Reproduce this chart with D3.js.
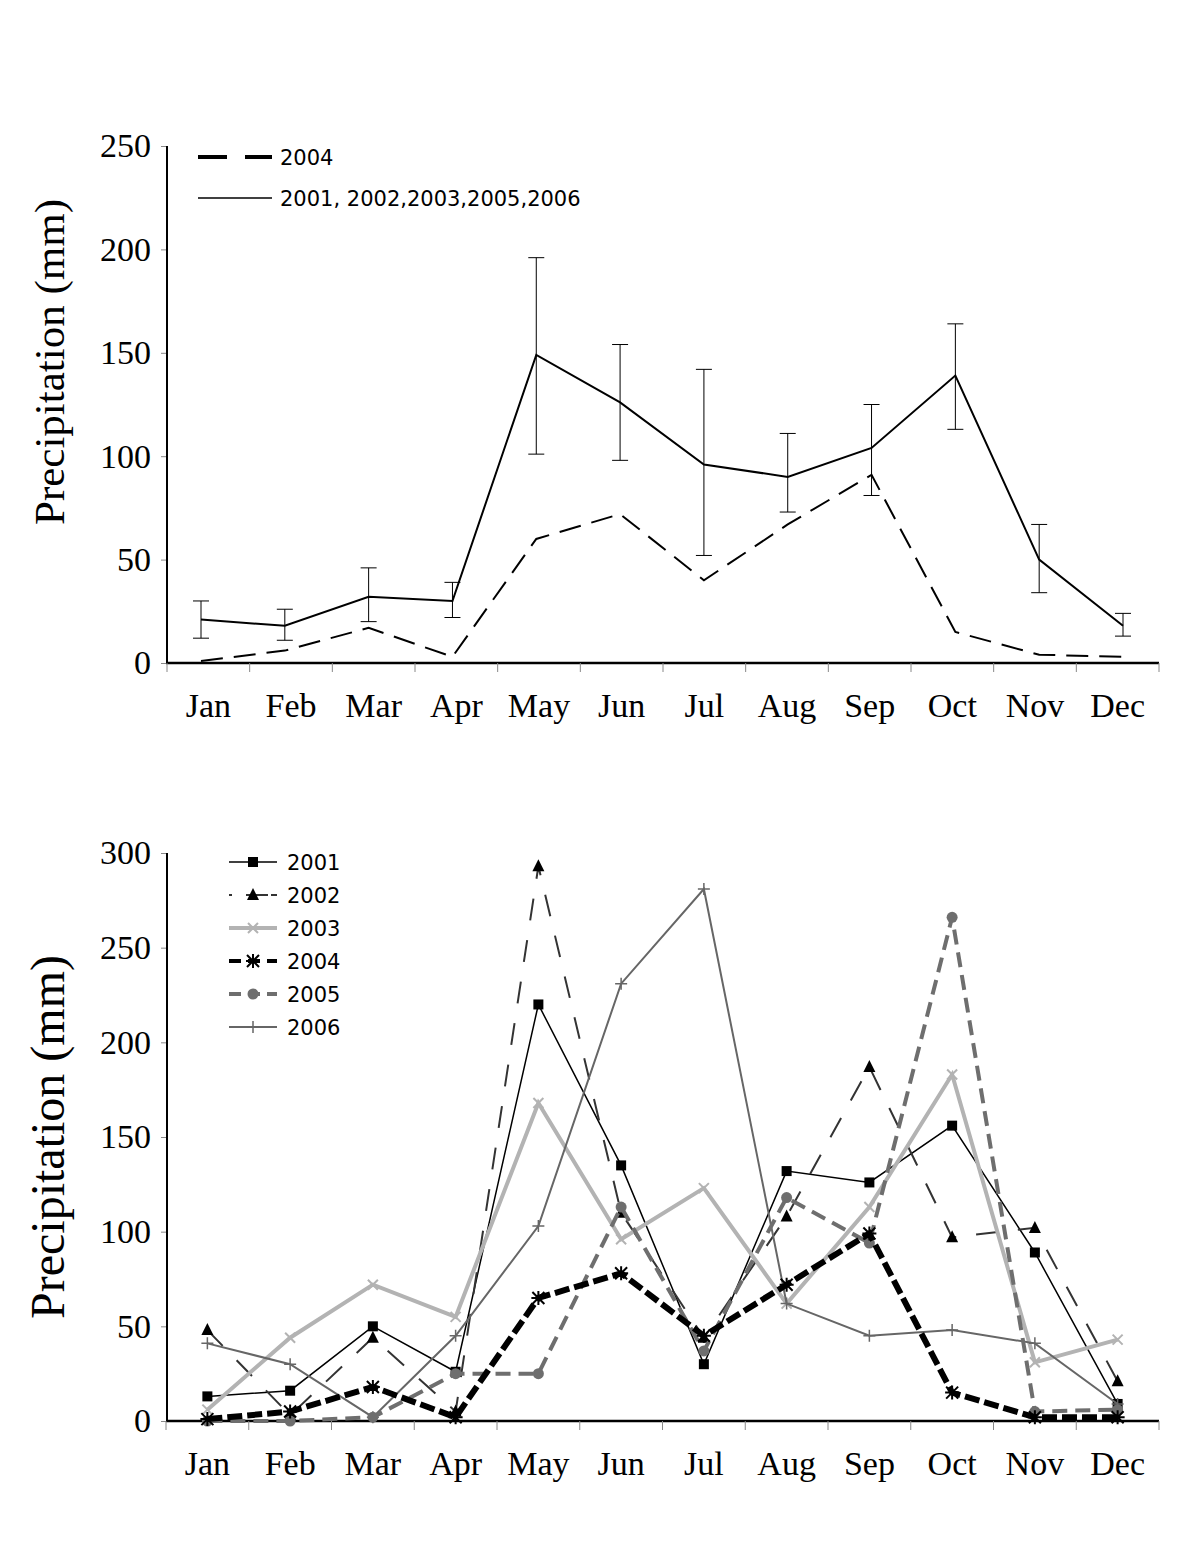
<!DOCTYPE html>
<html><head><meta charset="utf-8">
<script src="https://cdn.jsdelivr.net/npm/d3@7"></script>
<style>body{margin:0;background:#fff}svg{display:block}</style>
</head><body>
<svg id="c" width="1200" height="1553"></svg>
<script>
const months = ["Jan","Feb","Mar","Apr","May","Jun","Jul","Aug","Sep","Oct","Nov","Dec"];
// Top chart: mean of 2001,2002,2003,2005,2006 with error bars, and 2004
const meanOther = [21,18,32,30,149,126,96,90,104,139,50,18];
const errLow    = [12,11,20,22,101,98,52,73,81,113,34,13];
const errHigh   = [30,26,46,39,196,154,142,111,125,164,67,24];
const top2004   = [1,6,17,3,60,72,40,67,91,15,4,3];
const topTicks  = [0,50,100,150,200,250];
// Bottom chart: each year
const years = ["2001","2002","2003","2004","2005","2006"];
const y2001 = [13,16,50,26,220,135,30,132,126,156,89,9];
const y2002 = [48,3,44,5,293,110,44,108,187,97,102,21];
const y2003 = [6,44,72,55,168,96,123,62,113,183,31,43];
const y2004 = [1,5,18,2,65,78,45,72,99,15,2,2];
const y2005 = [0,0,2,25,25,113,37,118,94,266,5,6];
const y2006 = [41,30,2,45,103,231,281,62,45,48,41,9];
const bottomTicks = [0,50,100,150,200,250,300];

const svg = d3.select("#c");
const serif = "'Liberation Serif','Times New Roman',serif";
const sans = "'DejaVu Sans',Verdana,sans-serif";

function axes(g, xBand, y, ticks, yTop, yBot, labelSize, labelY) {
  const ya = d3.axisLeft(y).tickValues(ticks).tickSize(6).tickPadding(10);
  const gy = g.append("g").attr("transform","translate(167,0)").call(ya);
  gy.select(".domain").remove();
  gy.selectAll(".tick line").attr("stroke","#888").attr("stroke-width",1);
  gy.selectAll("text").attr("font-family",serif).attr("font-size",34).attr("fill","#000");
  g.append("line").attr("x1",167).attr("x2",167).attr("y1",yTop).attr("y2",yBot+1)
    .attr("stroke","#000").attr("stroke-width",2);
  g.append("line").attr("x1",166).attr("x2",1159).attr("y1",yBot).attr("y2",yBot)
    .attr("stroke","#000").attr("stroke-width",2.5);
  const bounds = months.map(m=>xBand(m)).concat([xBand.range()[1]]);
  g.selectAll("line.xt").data(bounds).join("line").attr("class","xt")
    .attr("x1",d=>d).attr("x2",d=>d).attr("y1",yBot).attr("y2",yBot+9)
    .attr("stroke","#888").attr("stroke-width",1);
  g.selectAll("text.xl").data(months).join("text").attr("class","xl")
    .attr("x",d=>xBand(d)+xBand.bandwidth()/2).attr("y",yBot+54)
    .attr("text-anchor","middle").attr("font-family",serif).attr("font-size",34).text(d=>d);
  g.append("text").attr("transform",`translate(64,${labelY}) rotate(-90)`)
    .attr("text-anchor","middle").attr("font-family",serif).attr("font-size",labelSize)
    .text("Precipitation (mm)");
}

// ---------- TOP ----------
const gt = svg.append("g");
const xbT = d3.scaleBand().domain(months).range([167,1159]);
const xpT = d3.scalePoint().domain(months).range([201,1123]);
const yT = d3.scaleLinear().domain([0,250]).range([663,146]);
axes(gt, xbT, yT, topTicks, 146, 663, 43, 362);

const lineT = d3.line().x((d,i)=>xpT(months[i])).y(d=>yT(d));
gt.append("path").attr("d",lineT(top2004)).attr("fill","none").attr("stroke","#000")
  .attr("stroke-width",2).attr("stroke-dasharray","22,11");
gt.append("path").attr("d",lineT(meanOther)).attr("fill","none").attr("stroke","#000")
  .attr("stroke-width",2);
const eb = gt.selectAll("g.eb").data(months).join("g").attr("class","eb");
eb.append("line").attr("x1",d=>xpT(d)).attr("x2",d=>xpT(d))
  .attr("y1",(d,i)=>yT(errLow[i])).attr("y2",(d,i)=>yT(errHigh[i])).attr("stroke","#000").attr("stroke-width",1);
eb.append("line").attr("x1",d=>xpT(d)-8).attr("x2",d=>xpT(d)+8)
  .attr("y1",(d,i)=>yT(errLow[i])).attr("y2",(d,i)=>yT(errLow[i])).attr("stroke","#000").attr("stroke-width",1);
eb.append("line").attr("x1",d=>xpT(d)-8).attr("x2",d=>xpT(d)+8)
  .attr("y1",(d,i)=>yT(errHigh[i])).attr("y2",(d,i)=>yT(errHigh[i])).attr("stroke","#000").attr("stroke-width",1);

// top legend
gt.append("line").attr("x1",198).attr("x2",272).attr("y1",157).attr("y2",157)
  .attr("stroke","#000").attr("stroke-width",4).attr("stroke-dasharray","29,18");
gt.append("text").attr("x",280).attr("y",164.5).attr("font-family",sans).attr("font-size",21).text("2004");
gt.append("line").attr("x1",198).attr("x2",272).attr("y1",198).attr("y2",198)
  .attr("stroke","#000").attr("stroke-width",1.5);
gt.append("text").attr("x",280).attr("y",205.5).attr("font-family",sans).attr("font-size",21)
  .text("2001, 2002,2003,2005,2006");

// ---------- BOTTOM ----------
const gb = svg.append("g");
const xbB = d3.scaleBand().domain(months).range([166,1159]);
const yB = d3.scaleLinear().domain([0,300]).range([1421,853]);
axes(gb, xbB, yB, bottomTicks, 853, 1421, 48, 1137);
const cx = m => xbB(m)+xbB.bandwidth()/2;

const series = [
  {name:"2001", vals:y2001, color:"#000", w:1.5, dash:null, mk:"square", mc:"#000"},
  {name:"2002", vals:y2002, color:"#333", w:2, dash:"22,20", mk:"triangle", mc:"#000"},
  {name:"2003", vals:y2003, color:"#b3b3b3", w:4, dash:null, mk:"x", mc:"#b3b3b3"},
  {name:"2006", vals:y2006, color:"#666", w:2, dash:null, mk:"plus", mc:"#666"},
  {name:"2005", vals:y2005, color:"#6e6e6e", w:4, dash:"15,8", mk:"circle", mc:"#6e6e6e"},
  {name:"2004", vals:y2004, color:"#000", w:6, dash:"15,5", mk:"star", mc:"#000"}
];
const lineB = d3.line().x((d,i)=>cx(months[i])).y(d=>yB(d));

function marker(g, type, x, y, color) {
  if (type==="square") g.append("rect").attr("x",x-5).attr("y",y-5).attr("width",10).attr("height",10).attr("fill",color);
  else if (type==="triangle") g.append("path").attr("d",`M${x},${y-7}L${x+6},${y+5}L${x-6},${y+5}Z`).attr("fill",color);
  else if (type==="circle") g.append("circle").attr("cx",x).attr("cy",y).attr("r",5.5).attr("fill",color);
  else if (type==="x") g.append("path").attr("d",`M${x-5},${y-5}L${x+5},${y+5}M${x-5},${y+5}L${x+5},${y-5}`).attr("stroke",color).attr("stroke-width",2);
  else if (type==="plus") g.append("path").attr("d",`M${x-6},${y}L${x+6},${y}M${x},${y-6}L${x},${y+6}`).attr("stroke",color).attr("stroke-width",1.5);
  else if (type==="star") g.append("path").attr("d",`M${x-6},${y-6}L${x+6},${y+6}M${x-6},${y+6}L${x+6},${y-6}M${x},${y-7}L${x},${y+7}M${x-7},${y}L${x+7},${y}`).attr("stroke",color).attr("stroke-width",2);
}

series.forEach(s=>{
  const p = gb.append("path").attr("d",lineB(s.vals)).attr("fill","none").attr("stroke",s.color)
    .attr("stroke-width",s.w).attr("stroke-linejoin","miter");
  if (s.dash) p.attr("stroke-dasharray",s.dash);
  const mg = gb.append("g");
  s.vals.forEach((v,i)=>marker(mg, s.mk, cx(months[i]), yB(v), s.mc));
});

// bottom legend
const legY = d3.scalePoint().domain(years).range([862,1027]);
years.forEach(yr=>{
  const s = series.find(d=>d.name===yr);
  const yy = legY(yr);
  const l = gb.append("line").attr("x1",229).attr("x2",277).attr("y1",yy).attr("y2",yy)
    .attr("stroke",s.color).attr("stroke-width",Math.min(s.w,4));
  if (s.dash) l.attr("stroke-dasharray", yr==="2002" ? "3,14,22" : "12,7");
  marker(gb, s.mk, 253, yy, s.mc);
  gb.append("text").attr("x",287).attr("y",yy+7.5).attr("font-family",sans).attr("font-size",21).text(yr);
});
</script>
</body></html>
